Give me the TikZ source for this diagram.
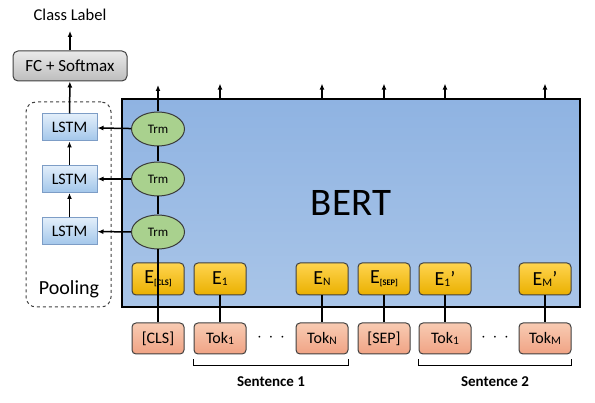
\documentclass[tikz,border=0pt]{standalone}
\usepackage{fontspec}
\setmainfont{Carlito}
\usepackage{tikz}
\usetikzlibrary{positioning,arrows.meta,shapes.geometric,calc}
\definecolor{bertA}{HTML}{8FB3E2}
\definecolor{bertB}{HTML}{A9C5E8}
\definecolor{trmfill}{HTML}{A9D18E}
\definecolor{trmline}{HTML}{3A3A3A}
\definecolor{embA}{HTML}{FFD44F}
\definecolor{embB}{HTML}{EAB000}
\definecolor{tokA}{HTML}{F8CBB3}
\definecolor{tokB}{HTML}{F0A384}
\definecolor{lstmA}{HTML}{E2EEFA}
\definecolor{lstmB}{HTML}{A2C6EA}
\definecolor{lstmline}{HTML}{7D9DC6}
\definecolor{fcA}{HTML}{EAEAEA}
\definecolor{fcB}{HTML}{BDBDBD}
\definecolor{boxline}{HTML}{404040}
\newcommand{\bsub}[1]{\raisebox{-0.2ex}{\fontsize{8.5}{9}\selectfont\bfseries #1}}
\newcommand{\ssub}[1]{\raisebox{-0.1ex}{\fontsize{11.5}{12}\selectfont #1}}

\begin{document}
\begin{tikzpicture}[x=1pt,y=-1pt,
  line width=1.5pt,
  bertbox/.style={draw=black,line width=2.8pt,top color=bertA,bottom color=bertB,minimum width=458pt,minimum height=208pt,font=\fontsize{39}{40}\selectfont},
  trm/.style={ellipse,draw=trmline,fill=trmfill,line width=1pt,minimum width=53pt,minimum height=34pt,inner sep=0pt,font=\fontsize{13}{14}\selectfont},
  emb/.style={draw=boxline,line width=1pt,rounded corners=4pt,top color=embA,bottom color=embB,minimum width=52pt,minimum height=32pt,inner sep=0pt,font=\fontsize{20}{22}\selectfont},
  tok/.style={draw=boxline,line width=1pt,rounded corners=4pt,top color=tokA,bottom color=tokB,minimum width=52pt,minimum height=31pt,inner sep=0pt,font=\fontsize{16}{18}\selectfont},
  lstm/.style={draw=lstmline,line width=1pt,top color=lstmA,bottom color=lstmB,minimum width=55pt,minimum height=27pt,inner sep=0pt,font=\fontsize{16}{18}\selectfont},
  fcbox/.style={draw=boxline,line width=1pt,rounded corners=5pt,top color=fcA,bottom color=fcB,minimum width=114pt,minimum height=30pt,inner sep=0pt,font=\fontsize{17}{19}\selectfont},
  sent/.style={font=\fontsize{15}{17}\selectfont\bfseries},
  arr/.style={-{Latex[length=6pt,width=5pt]}}]
\useasboundingbox (0,0) rectangle (595,403);
\node[bertbox] (bert) at (351,203) {BERT};
\node[draw=boxline,dashed,line width=1pt,rounded corners=10pt,minimum width=85pt,minimum height=205pt] (pool) at (68.5,204.5) {};
\node[font=\fontsize{20}{22}\selectfont] (pooltxt) at (69,289) {Pooling};
\node[trm] (trmA) at (158,129) {Trm};
\node[trm] (trmB) at (158,179) {Trm};
\node[trm] (trmC) at (158,232) {Trm};
\node[emb] (ecls) at (158,279) {E\bsub{[CLS]}};
\node[emb] (eone) at (220,279) {E\ssub{1}};
\node[emb] (en) at (322,279) {E\ssub{N}};
\node[emb] (esep) at (384,279) {E\bsub{[SEP]}};
\node[emb] (eonep) at (445,279) {E\ssub{1}’};
\node[emb] (em) at (545,279) {E\ssub{M}’};
\node[tok] (cls) at (158,338.5) {[CLS]};
\node[tok] (tokone) at (220,338.5) {Tok\ssub{1}};
\node[tok] (tokn) at (322,338.5) {Tok\ssub{N}};
\node[tok] (sep) at (384,338.5) {[SEP]};
\node[tok] (tokonep) at (445,338.5) {Tok\ssub{1}};
\node[tok] (tokm) at (545,338.5) {Tok\ssub{M}};
\node[font=\fontsize{16}{18}\selectfont] (dotsA) at (271,338) {$\cdot\,\cdot\,\cdot$};
\node[font=\fontsize{16}{18}\selectfont] (dotsB) at (495,338) {$\cdot\,\cdot\,\cdot$};
\node[lstm] (lstmA) at (69.5,127.5) {LSTM};
\node[lstm] (lstmB) at (69.5,179) {LSTM};
\node[lstm] (lstmC) at (69.5,231.5) {LSTM};
\node[fcbox] (fc) at (70,66) {FC + Softmax};
\node[font=\fontsize{16.5}{18}\selectfont] (label) at (70,15) {Class Label};
\coordinate (outcls) at (158,85);
\coordinate (outfc) at (70,31);
\draw[arr] (trmA) -- (outcls);
\draw (trmA) -- (trmB);
\draw (trmB) -- (trmC);
\draw (trmC) -- (cls);
\draw (eone) -- (tokone);
\draw (en) -- (tokn);
\draw (esep) -- (sep);
\draw (eonep) -- (tokonep);
\draw (em) -- (tokm);
\draw[arr] (eone |- bert.north) -- ++(0,-14);
\draw[arr] (en |- bert.north) -- ++(0,-14);
\draw[arr] (esep |- bert.north) -- ++(0,-14);
\draw[arr] (eonep |- bert.north) -- ++(0,-14);
\draw[arr] (em |- bert.north) -- ++(0,-14);
\draw[arr] (trmA) -- (lstmA);
\draw[arr] (trmB) -- (lstmB);
\draw[arr] (trmC) -- (lstmC);
\draw[arr] (lstmC) -- (lstmB);
\draw[arr] (lstmB) -- (lstmA);
\draw[arr] (lstmA) -- (fc);
\draw[arr] (fc) -- (outfc);
\draw ([yshift=-5pt]tokone.south west) -- ++(0,6) -| ([yshift=-5pt]tokn.south east);
\draw ([yshift=-5pt]tokonep.south west) -- ++(0,6) -| ([yshift=-5pt]tokm.south east);
\node[sent] (sentA) at (271,382) {Sentence 1};
\node[sent] (sentB) at (495,382) {Sentence 2};
\end{tikzpicture}
\end{document}
